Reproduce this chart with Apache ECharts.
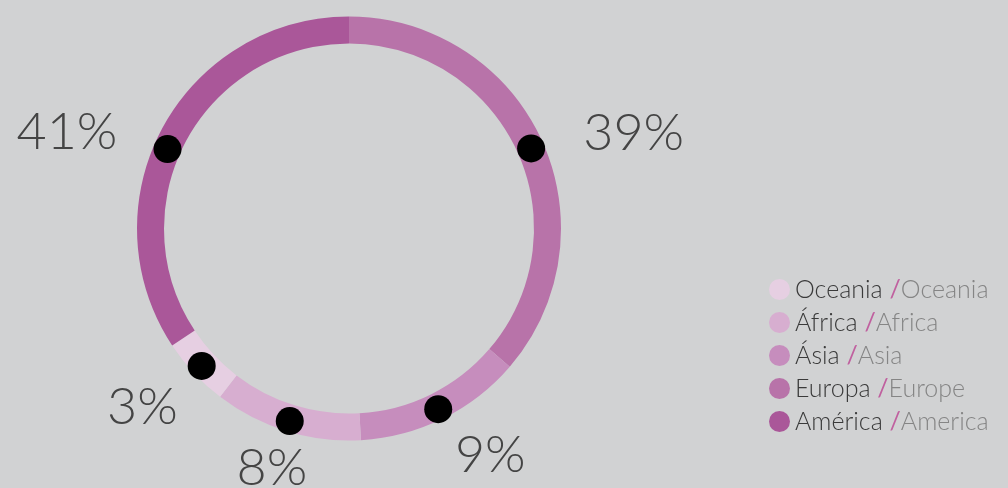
<!DOCTYPE html>
<html>
<head>
<meta charset="utf-8">
<script src="https://cdn.jsdelivr.net/npm/echarts@6/dist/echarts.min.js"></script>
<style>
html,body{margin:0;padding:0;background:#d1d2d3;}
#c{width:1008px;height:488px;}
</style>
</head>
<body>
<div id="c"></div>
<script>
// Data (drawing order: clockwise from the top)
const regionsPt = ['Europa', 'Ásia', 'África', 'Oceania', 'América'];
const regionsEn = ['Europe', 'Asia', 'Africa', 'Oceania', 'America'];
const percentLabels = [39, 9, 8, 3, 41];          // printed values
const ringShares = [36.3, 12.8, 11.3, 5.3, 34.3]; // arc sizes as drawn in the picture
const legendOrder = ['Oceania', 'África', 'Ásia', 'Europa', 'América'];
const colors = ['#b873a9', '#c68dbd', '#d7aed0', '#e6cfe2', '#aa5799'];

const CX = 349, CY = 228.5;
const FONT = 'Lato, "Open Sans", sans-serif';
// small hand placement tweaks of the percentage texts and marker dots (layout only)
const labelNudge = [[3, -4], [4, 0], [14, -2], [20, 4], [-9, 8]];
const dotNudge = [[-1, 4], [0, 0], [0, 0], [0, 0], [-4, 16]];

// mid angles (degrees clockwise from top) of each arc
const total = ringShares.reduce((a, b) => a + b, 0);
const midAngles = [];
let acc = 0;
ringShares.forEach(v => { midAngles.push((acc + v / 2) / total * 360); acc += v; });

const enByPt = {};
regionsPt.forEach((n, i) => enByPt[n] = regionsEn[i]);

const pieData = regionsPt.map((n, i) => ({ name: n, value: ringShares[i], itemStyle: { color: colors[i] } }));

const chart = echarts.init(document.getElementById('c'), null, { renderer: 'canvas' });
chart.setOption({
  backgroundColor: '#d1d2d3',
  animation: false,
  legend: {
    orient: 'vertical',
    left: 769,
    top: 277,
    padding: 0,
    icon: 'circle',
    itemWidth: 21,
    itemHeight: 21,
    itemGap: 8,
    selectedMode: false,
    data: legendOrder,
    formatter: name => '{a|' + name + '} {s|/}{b|' + enByPt[name] + '}',
    textStyle: {
      fontFamily: FONT,
      fontWeight: 300,
      fontSize: 25,
      rich: {
        a: { fontFamily: FONT, fontWeight: 300, fontSize: 25, color: '#3a3a3a', lineHeight: 23 },
        s: { fontFamily: FONT, fontWeight: 400, fontSize: 25, color: '#c0609f', lineHeight: 23 },
        b: { fontFamily: FONT, fontWeight: 300, fontSize: 25, color: '#858585', lineHeight: 23 }
      }
    }
  },
  series: [
    {
      type: 'pie',
      center: [CX, CY],
      radius: [185, 212],
      startAngle: 90,
      clockwise: true,
      silent: true,
      data: pieData,
      label: {
        show: true,
        position: 'inside',
        formatter: '{dot| }',
        rich: { dot: { width: 28, height: 28, borderRadius: 14, backgroundColor: '#000' } }
      },
      labelLayout: p => {
        const n = dotNudge[p.dataIndex];
        return { dx: n[0], dy: n[1] };
      },
      labelLine: { show: false },
      emphasis: { disabled: true }
    },
    {
      type: 'pie',
      center: [CX, CY],
      radius: [185, 212],
      startAngle: 90,
      clockwise: true,
      silent: true,
      legendHoverLink: false,
      data: regionsPt.map((n, i) => ({ name: n + ' ', value: ringShares[i], itemStyle: { color: 'rgba(0,0,0,0)' } })),
      label: {
        show: true,
        position: 'inside',
        formatter: p => percentLabels[p.dataIndex] + '%',
        fontFamily: FONT,
        fontWeight: 300,
        fontSize: 52,
        color: '#444'
      },
      labelLayout: p => {
        const a = midAngles[p.dataIndex] * Math.PI / 180;
        const n = labelNudge[p.dataIndex];
        return {
          x: CX + 310 * Math.sin(a) + n[0],
          y: CY + 10 - 242 * Math.cos(a) + n[1],
          align: 'center',
          verticalAlign: 'middle'
        };
      },
      labelLine: { show: false },
      emphasis: { disabled: true }
    }
  ]
});
</script>
</body>
</html>
